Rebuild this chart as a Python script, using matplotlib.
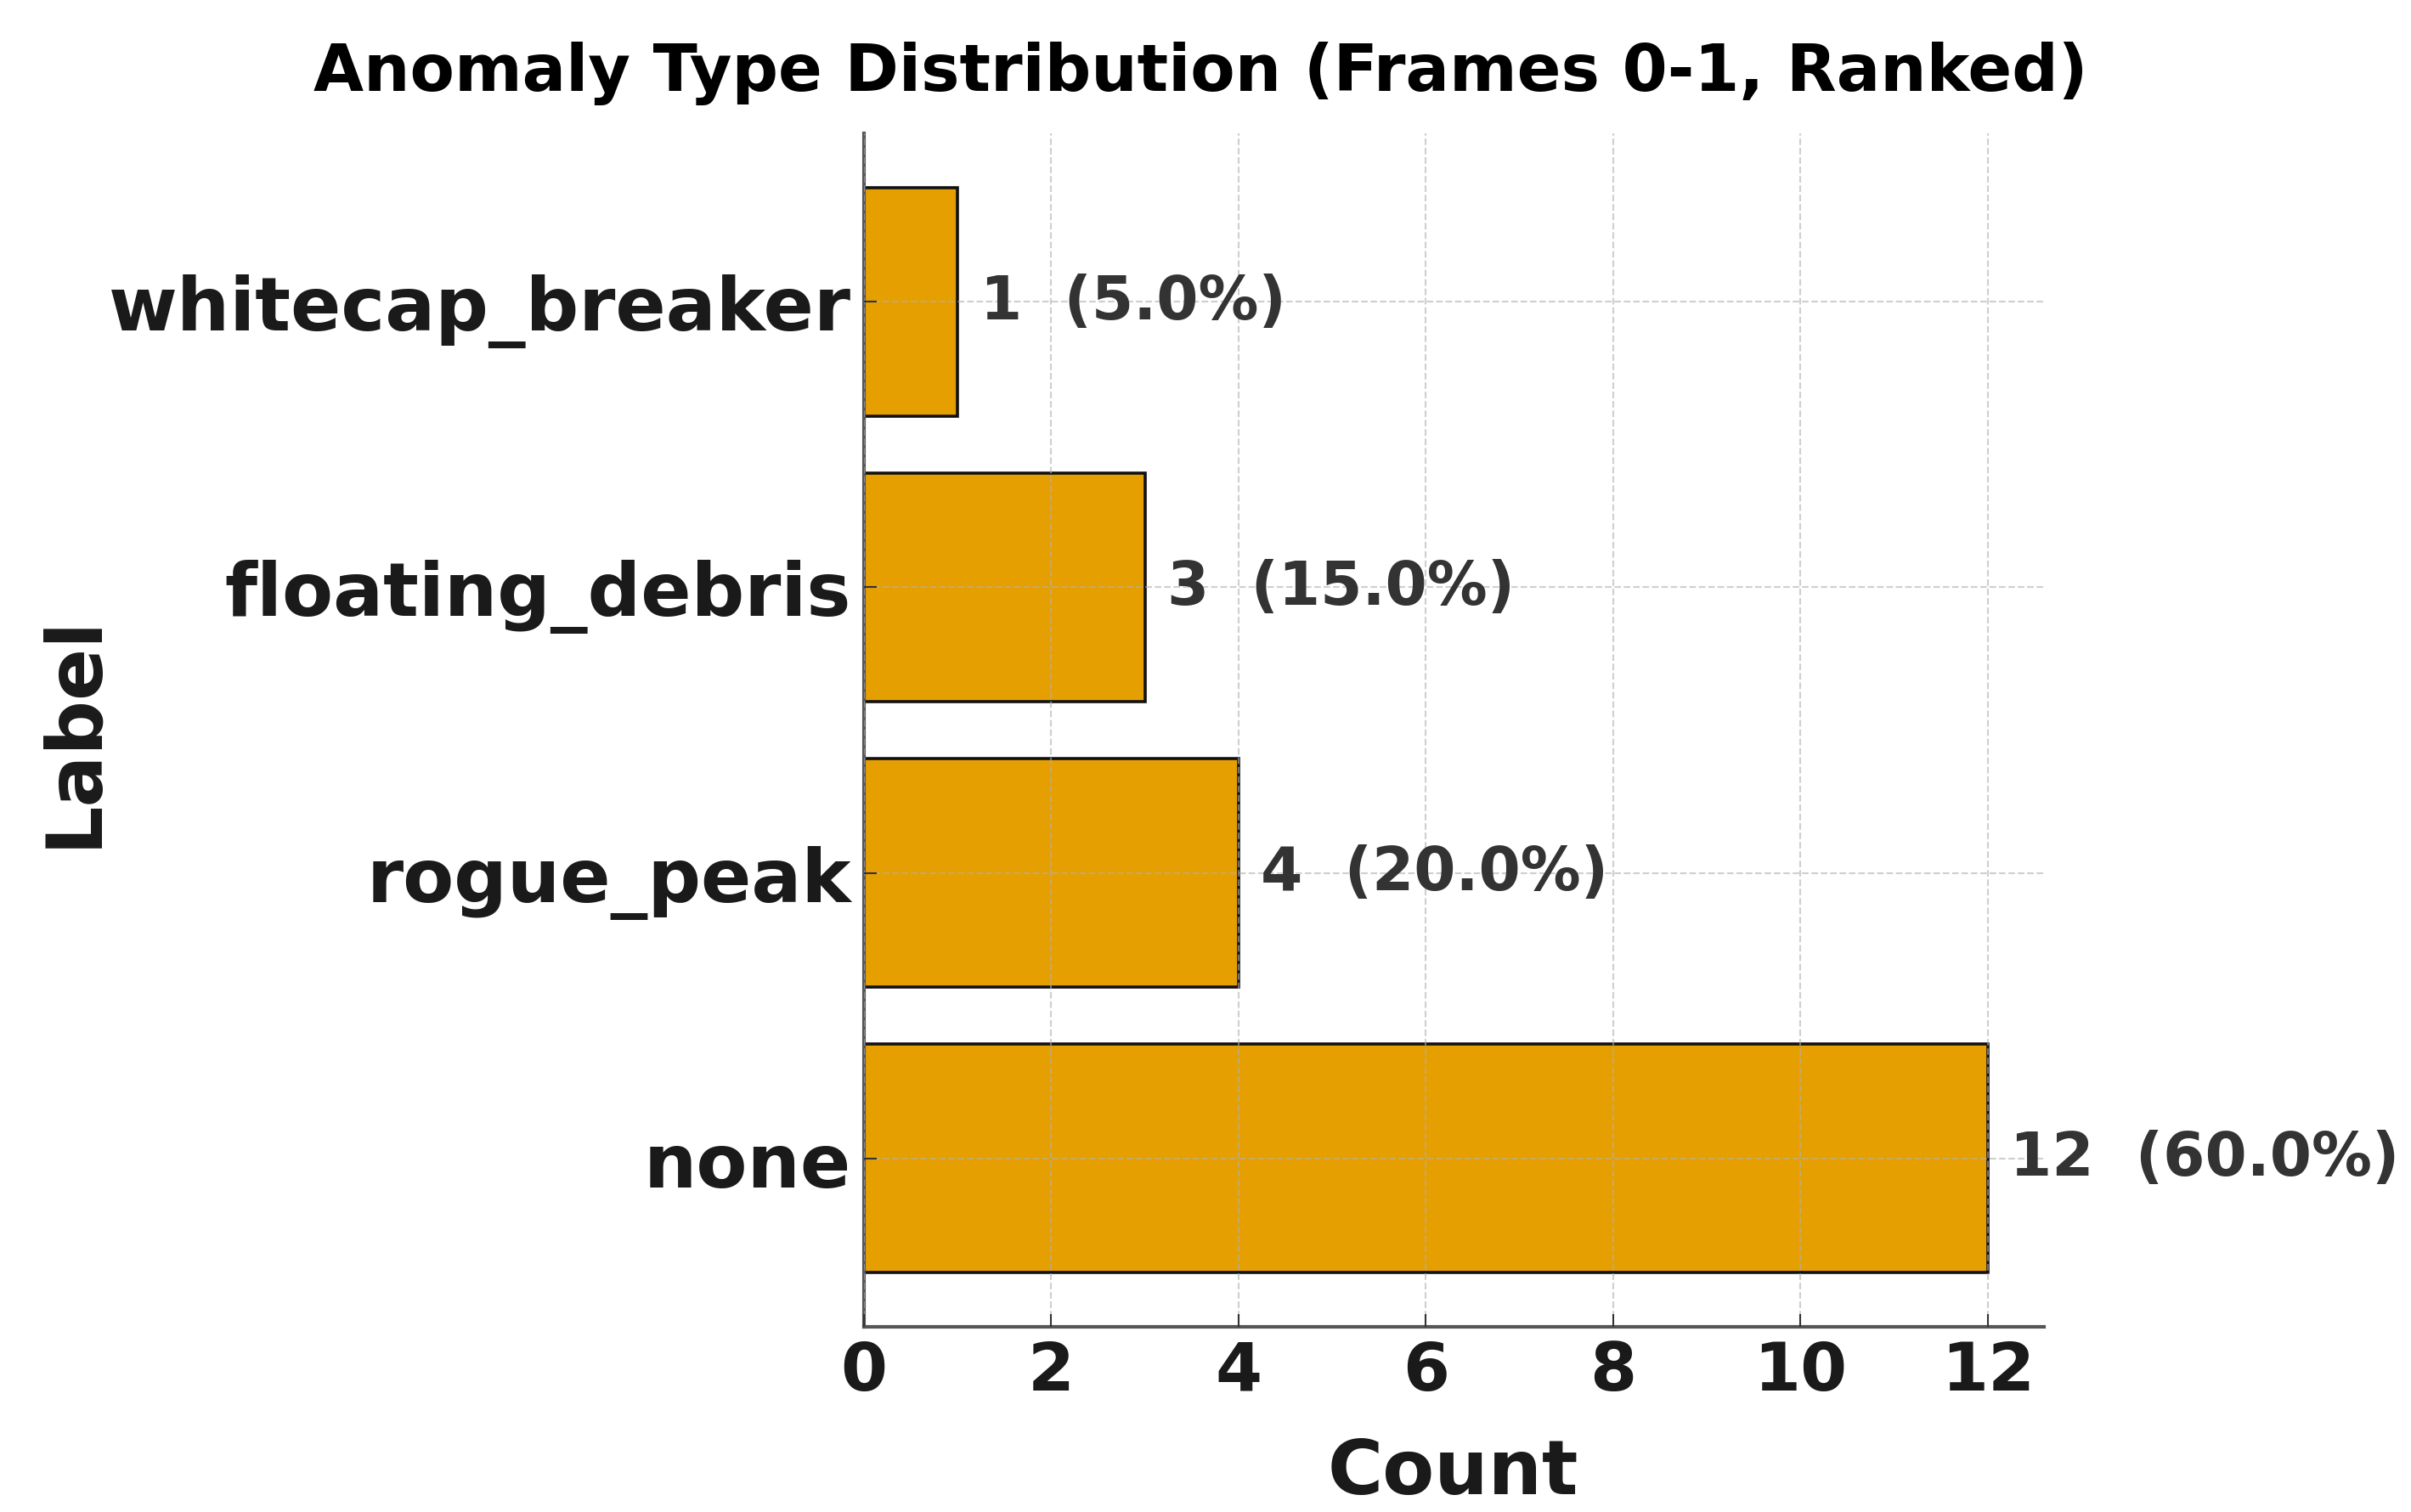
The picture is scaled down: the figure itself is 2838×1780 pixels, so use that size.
import matplotlib
matplotlib.use("Agg")
import matplotlib.pyplot as plt

# ---- data ----
labels = ["none", "rogue_peak", "floating_debris", "whitecap_breaker"]
counts = [12, 4, 3, 1]
x_ticks = [0, 2, 4, 6, 8, 10, 12]
title = "Anomaly Type Distribution (Frames 0-1, Ranked)"
x_label = "Count"
y_label = "Label"

total = sum(counts)

plt.rcParams["font.family"] = ["DejaVu Sans"]

W, H = 2838, 1781
fig = plt.figure(figsize=(W / 100, H / 100), dpi=100)
ax = fig.add_axes([1017 / W, 1 - 1563 / H, (2406 - 1017) / W, (1563 - 158) / H])

bars = ax.barh(labels, counts, height=0.8, color="#E69F00",
               edgecolor="#111111", linewidth=2.6)

for rect, v in zip(bars, counts):
    pct = v / total * 100
    ax.annotate(f"{v}  ({pct:.1f}%)",
                xy=(rect.get_width(), rect.get_y() + rect.get_height() / 2),
                xytext=(19, 0), textcoords="offset points",
                ha="left", va="center", fontsize=51, fontweight="bold",
                color="#333333")

ax.set_xlim(0, max(counts) * 1.05)
ax.set_xticks(x_ticks)

ax.set_axisbelow(False)
ax.grid(True, linestyle="--", linewidth=1.5, color="#b0b0b0", alpha=0.6)

for s in ["top", "right"]:
    ax.spines[s].set_visible(False)
for s in ["left", "bottom"]:
    ax.spines[s].set_color("#555555")
    ax.spines[s].set_linewidth(3)

ax.tick_params(axis="both", direction="in", length=10.8, width=1.5,
               color="#333333")
ax.tick_params(axis="x", labelsize=57, pad=10, labelcolor="#1a1a1a")
ax.tick_params(axis="y", labelsize=63, pad=11, labelcolor="#1a1a1a")
for t in ax.get_xticklabels() + ax.get_yticklabels():
    t.set_fontweight("bold")

ax.set_xlabel(x_label, fontsize=64, fontweight="bold", color="#1a1a1a")
ax.xaxis.set_label_coords(1710 / W, 1 - 1759 / H, transform=fig.transFigure)
ax.xaxis.label.set_va("baseline")

ax.set_ylabel(y_label, fontsize=65, fontweight="bold", color="#1a1a1a")
ax.yaxis.set_label_coords(112 / W, 1 - 860 / H, transform=fig.transFigure)
ax.yaxis.label.set_va("baseline")

fig.suptitle(title, x=1413 / W, y=1 - 107 / H, va="baseline",
             fontsize=55, fontweight="bold", color="black")

fig.savefig("out.png", dpi=100, facecolor="white")
